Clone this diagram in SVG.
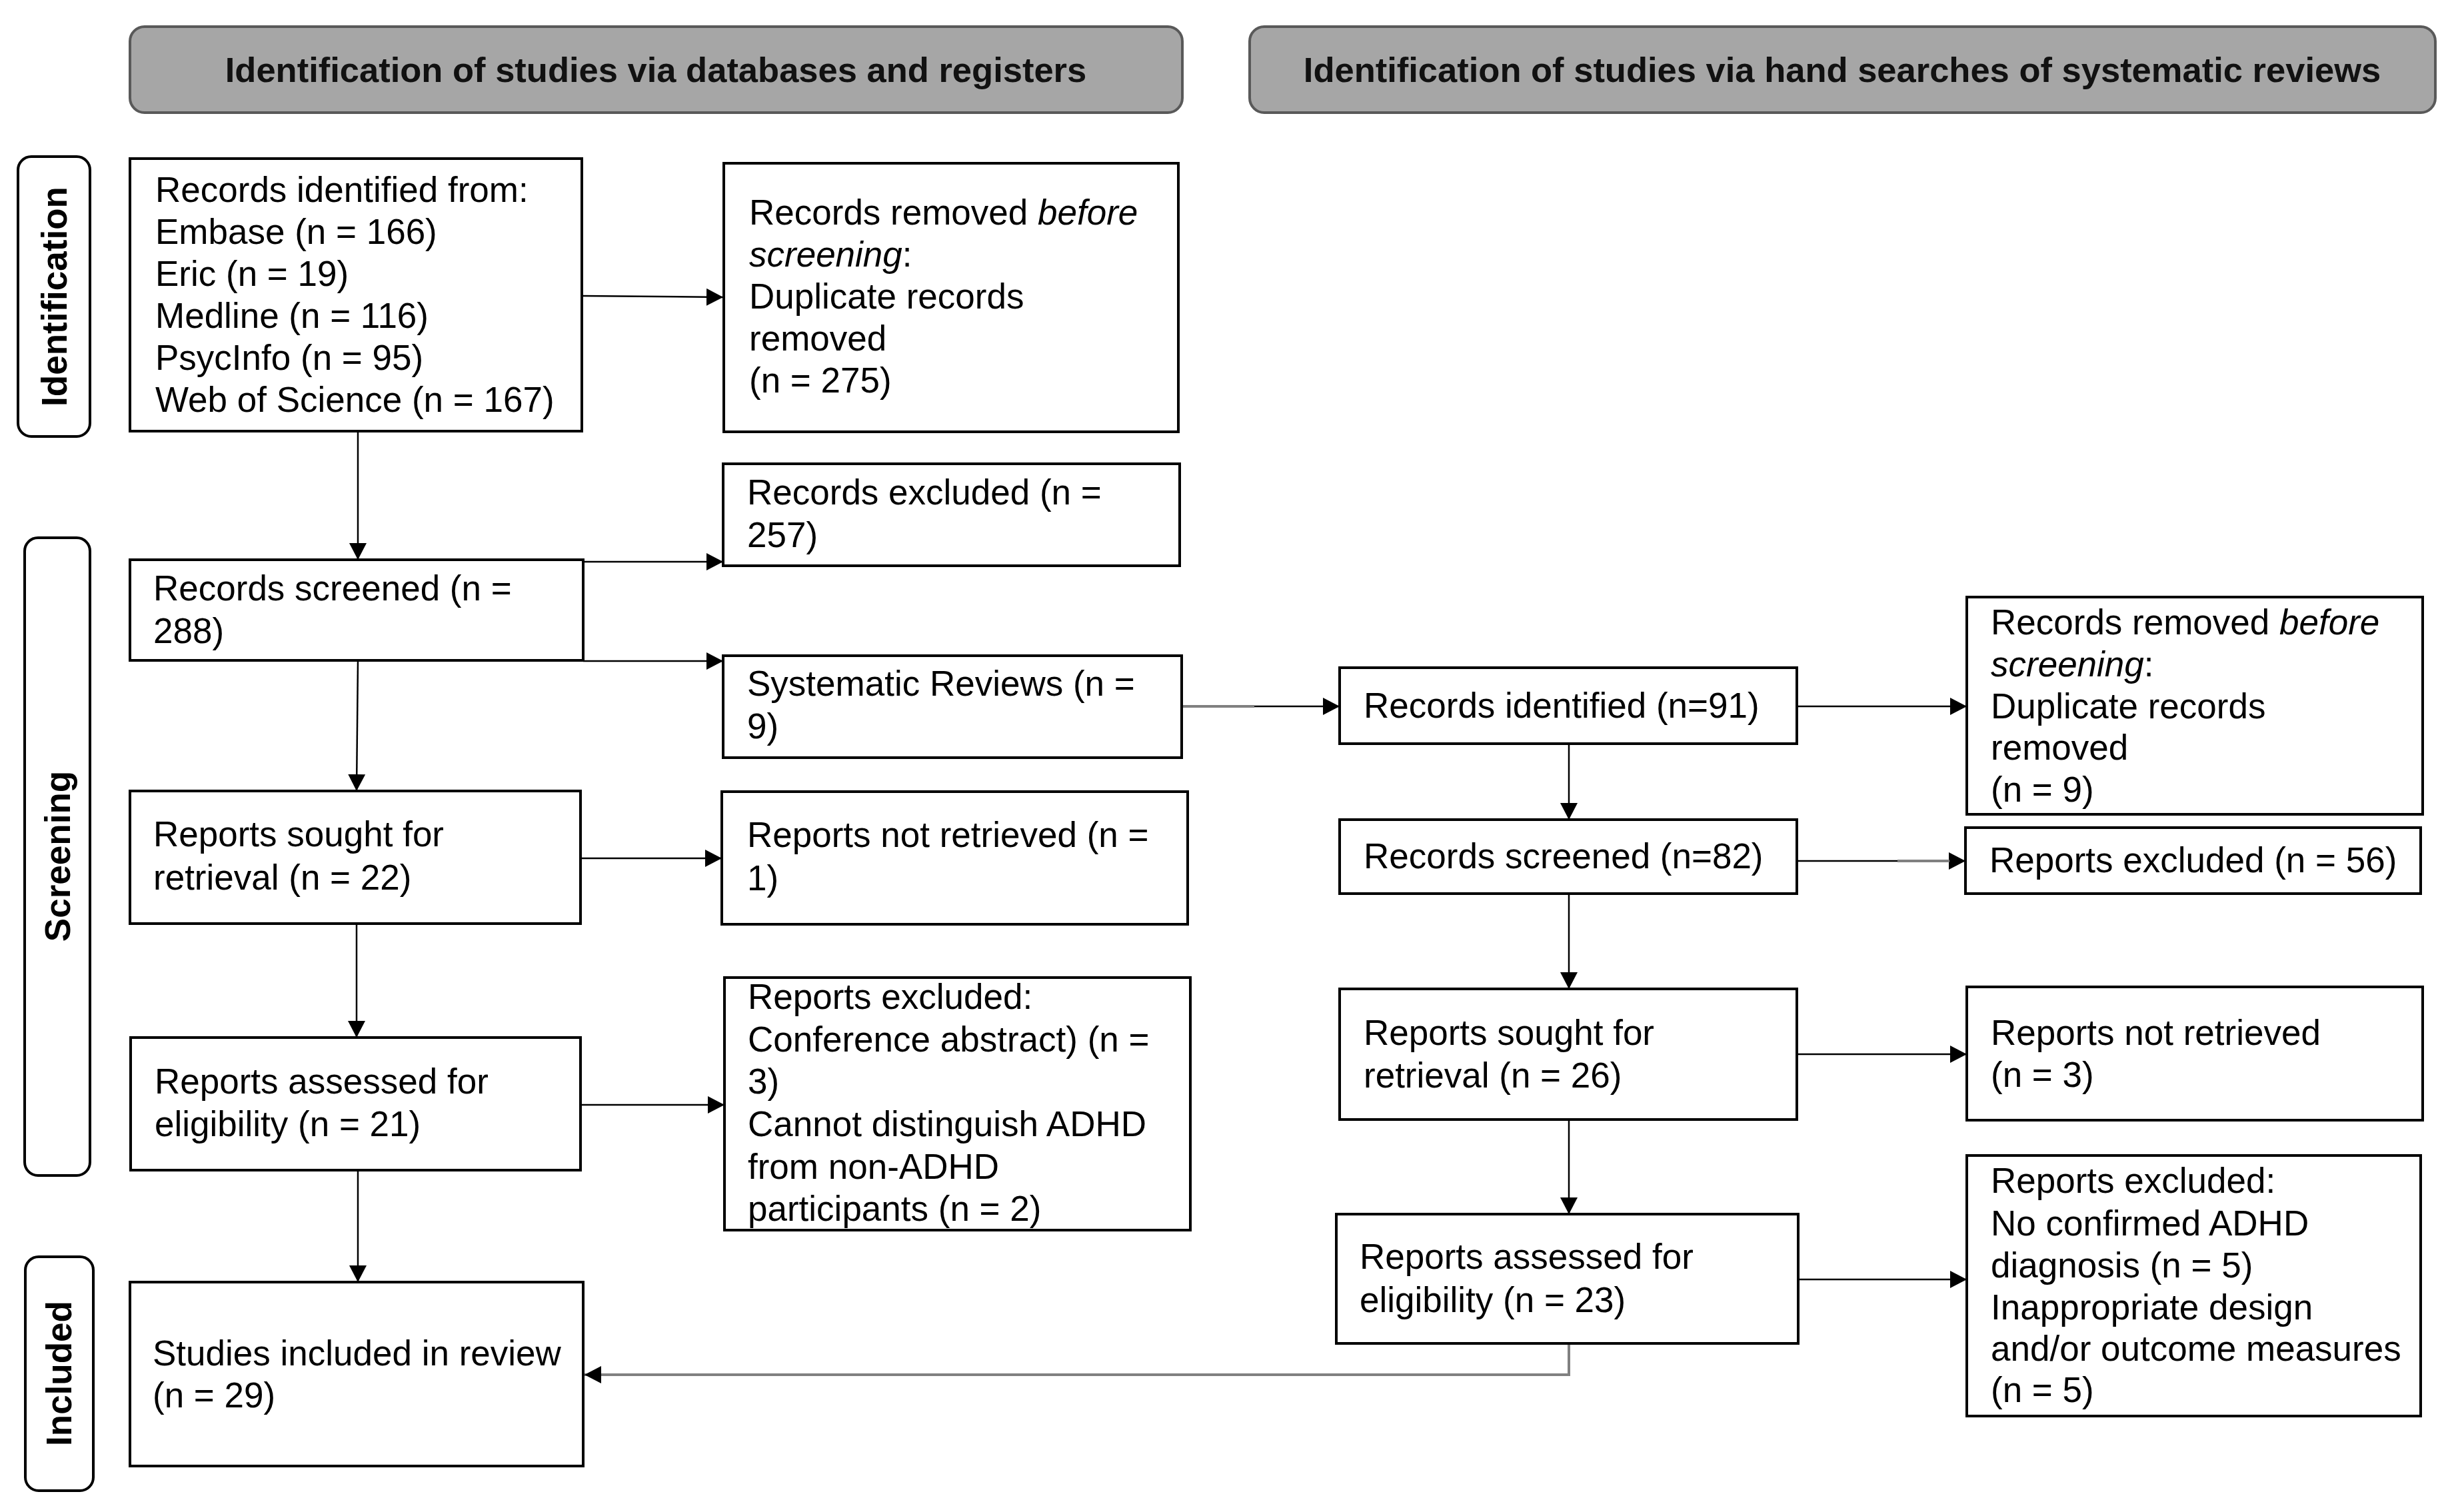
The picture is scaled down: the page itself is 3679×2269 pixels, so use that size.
<svg xmlns="http://www.w3.org/2000/svg" width="3679" height="2269" viewBox="0 0 3679 2269">
<defs>
<style>
.box{fill:#fff;stroke:#000;stroke-width:4}
.hdr{fill:#a6a6a6;stroke:#595959;stroke-width:4}
.lbl{fill:#fff;stroke:#000;stroke-width:4}
text{font-family:"Liberation Sans",Arial,sans-serif;font-size:53px;fill:#000}
.b{font-weight:bold}
.h{font-weight:bold;font-size:52.5px;fill:#111}
.c{stroke:#000;stroke-width:2.5;fill:none}
.g{stroke:#808080;stroke-width:4;fill:none}
</style>
<marker id="ah" markerUnits="userSpaceOnUse" markerWidth="26" markerHeight="26" refX="25" refY="13" orient="auto">
<path d="M0,0 L25,13 L0,26 Z" fill="#000"/>
</marker>
</defs>
<rect width="3679" height="2269" fill="#fff"/>

<g id="header-db">
<rect class="hdr" x="195" y="40" width="1579" height="129" rx="22"/>
<text class="h" x="984" y="123" text-anchor="middle">Identification of studies via databases and registers</text>
</g>
<g id="header-hand">
<rect class="hdr" x="1875" y="40" width="1779" height="129" rx="22"/>
<text class="h" x="2764" y="123" text-anchor="middle">Identification of studies via hand searches of systematic reviews</text>
</g>

<g id="label-identification">
<rect class="lbl" x="27" y="235" width="108" height="420" rx="20"/>
<text class="b" font-size="52" transform="translate(100,445) rotate(-90)" text-anchor="middle">Identification</text>
</g>
<g id="label-screening">
<rect class="lbl" x="37" y="807" width="98" height="957" rx="20"/>
<text class="b" font-size="52" transform="translate(105,1285) rotate(-90)" text-anchor="middle">Screening</text>
</g>
<g id="label-included">
<rect class="lbl" x="38" y="1886" width="102" height="351" rx="20"/>
<text class="b" font-size="52" transform="translate(107,2061) rotate(-90)" text-anchor="middle">Included</text>
</g>

<g id="connectors">
<line class="c" x1="873" y1="444" x2="1085" y2="446" marker-end="url(#ah)"/>
<line class="c" x1="537" y1="647" x2="537" y2="840" marker-end="url(#ah)"/>
<line class="c" x1="875" y1="843" x2="1085" y2="843" marker-end="url(#ah)"/>
<line class="c" x1="875" y1="992" x2="1085" y2="992" marker-end="url(#ah)"/>
<line class="c" x1="537" y1="991" x2="535" y2="1187" marker-end="url(#ah)"/>
<line class="c" x1="871" y1="1288" x2="1083" y2="1288" marker-end="url(#ah)"/>
<line class="c" x1="535" y1="1386" x2="535" y2="1557" marker-end="url(#ah)"/>
<line class="c" x1="871" y1="1658" x2="1087" y2="1658" marker-end="url(#ah)"/>
<line class="c" x1="537" y1="1756" x2="537" y2="1924" marker-end="url(#ah)"/>
<line class="c" x1="1882" y1="1060" x2="2010" y2="1060" marker-end="url(#ah)"/>
<line class="g" x1="1773" y1="1060" x2="1882" y2="1060"/>
<line class="c" x1="2696" y1="1060" x2="2951" y2="1060" marker-end="url(#ah)"/>
<line class="c" x1="2354" y1="1116" x2="2354" y2="1230" marker-end="url(#ah)"/>
<line class="c" x1="2696" y1="1292" x2="2949" y2="1292" marker-end="url(#ah)"/>
<line class="g" x1="2847" y1="1292" x2="2925" y2="1292"/>
<line class="c" x1="2354" y1="1341" x2="2354" y2="1484" marker-end="url(#ah)"/>
<line class="c" x1="2696" y1="1582" x2="2951" y2="1582" marker-end="url(#ah)"/>
<line class="c" x1="2354" y1="1680" x2="2354" y2="1822" marker-end="url(#ah)"/>
<line class="c" x1="2698" y1="1920" x2="2951" y2="1920" marker-end="url(#ah)"/>
<path class="g" d="M2354,2016 V2063 H877" marker-end="url(#ah)"/>
</g>

<g id="n-records-identified">
<rect class="box" x="195" y="238" width="678" height="409"/>
<text><tspan x="233" y="303">Records identified from:</tspan><tspan x="233" y="366">Embase (n = 166)</tspan><tspan x="233" y="429">Eric (n = 19)</tspan><tspan x="233" y="492">Medline (n = 116)</tspan><tspan x="233" y="555">PsycInfo (n = 95)</tspan><tspan x="233" y="618">Web of Science (n = 167)</tspan></text>
</g>
<g id="n-records-removed">
<rect class="box" x="1086" y="245" width="682" height="403"/>
<text><tspan x="1124" y="337">Records removed <tspan font-style="italic">before</tspan></tspan><tspan x="1124" y="400"><tspan font-style="italic">screening</tspan>:</tspan><tspan x="1124" y="463">Duplicate records</tspan><tspan x="1124" y="526">removed</tspan><tspan x="1124" y="589">(n = 275)</tspan></text>
</g>
<g id="n-records-excluded">
<rect class="box" x="1085" y="696" width="685" height="153"/>
<text><tspan x="1121" y="757">Records excluded  (n =</tspan><tspan x="1121" y="821">257)</tspan></text>
</g>
<g id="n-records-screened">
<rect class="box" x="195" y="840" width="680" height="151"/>
<text><tspan x="230" y="901">Records screened (n =</tspan><tspan x="230" y="965">288)</tspan></text>
</g>
<g id="n-systematic-reviews">
<rect class="box" x="1085" y="984" width="688" height="153"/>
<text><tspan x="1121" y="1044">Systematic Reviews (n =</tspan><tspan x="1121" y="1108">9)</tspan></text>
</g>
<g id="n-reports-sought">
<rect class="box" x="195" y="1187" width="676" height="199"/>
<text><tspan x="230" y="1270">Reports sought for</tspan><tspan x="230" y="1335">retrieval (n = 22)</tspan></text>
</g>
<g id="n-reports-not-retrieved">
<rect class="box" x="1083" y="1188" width="699" height="199"/>
<text><tspan x="1121" y="1271">Reports not retrieved (n =</tspan><tspan x="1121" y="1336">1)</tspan></text>
</g>
<g id="n-reports-assessed">
<rect class="box" x="196" y="1557" width="675" height="199"/>
<text><tspan x="232" y="1641">Reports assessed for</tspan><tspan x="232" y="1705">eligibility (n = 21)</tspan></text>
</g>
<g id="n-reports-excluded">
<rect class="box" x="1087" y="1467" width="699" height="379"/>
<text><tspan x="1122" y="1514">Reports excluded:</tspan><tspan x="1122" y="1578">Conference abstract) (n =</tspan><tspan x="1122" y="1641">3)</tspan><tspan x="1122" y="1705">Cannot distinguish ADHD</tspan><tspan x="1122" y="1769">from non-ADHD</tspan><tspan x="1122" y="1832">participants (n = 2)</tspan></text>
</g>
<g id="n-studies-included">
<rect class="box" x="195" y="1924" width="680" height="276"/>
<text><tspan x="229" y="2049">Studies included in review</tspan><tspan x="229" y="2112">(n = 29)</tspan></text>
</g>

<g id="n-hs-records-identified">
<rect class="box" x="2010" y="1002" width="686" height="114"/>
<text x="2046" y="1077">Records identified (n=91)</text>
</g>
<g id="n-hs-records-removed">
<rect class="box" x="2951" y="896" width="684" height="326"/>
<text><tspan x="2987" y="952">Records removed <tspan font-style="italic">before</tspan></tspan><tspan x="2987" y="1015"><tspan font-style="italic">screening</tspan>:</tspan><tspan x="2987" y="1078">Duplicate records</tspan><tspan x="2987" y="1140">removed</tspan><tspan x="2987" y="1203">(n = 9)</tspan></text>
</g>
<g id="n-hs-records-screened">
<rect class="box" x="2010" y="1230" width="686" height="111"/>
<text x="2046" y="1303">Records screened (n=82)</text>
</g>
<g id="n-hs-reports-excluded-56">
<rect class="box" x="2949" y="1242" width="683" height="99"/>
<text x="2985" y="1309">Reports excluded (n = 56)</text>
</g>
<g id="n-hs-reports-sought">
<rect class="box" x="2010" y="1484" width="686" height="196"/>
<text><tspan x="2046" y="1568">Reports sought for</tspan><tspan x="2046" y="1632">retrieval (n = 26)</tspan></text>
</g>
<g id="n-hs-reports-not-retrieved">
<rect class="box" x="2951" y="1481" width="684" height="200"/>
<text><tspan x="2987" y="1568">Reports not retrieved</tspan><tspan x="2987" y="1631">(n = 3)</tspan></text>
</g>
<g id="n-hs-reports-assessed">
<rect class="box" x="2005" y="1822" width="693" height="194"/>
<text><tspan x="2040" y="1904">Reports assessed for</tspan><tspan x="2040" y="1969">eligibility (n = 23)</tspan></text>
</g>
<g id="n-hs-reports-excluded">
<rect class="box" x="2951" y="1734" width="681" height="391"/>
<text><tspan x="2987" y="1790">Reports excluded:</tspan><tspan x="2987" y="1854">No confirmed ADHD</tspan><tspan x="2987" y="1917">diagnosis (n = 5)</tspan><tspan x="2987" y="1980">Inappropriate design</tspan><tspan x="2987" y="2042">and/or outcome measures</tspan><tspan x="2987" y="2104">(n = 5)</tspan></text>
</g>
</svg>
